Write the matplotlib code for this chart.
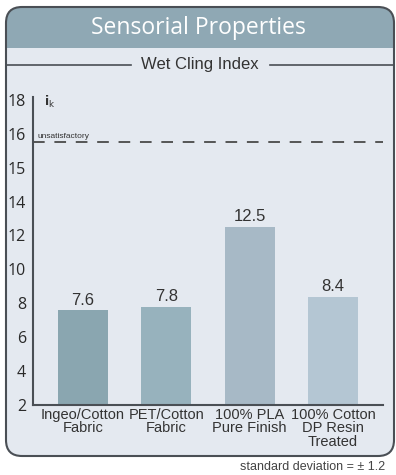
import matplotlib.pyplot as plt
from matplotlib.patches import FancyBboxPatch, Rectangle

# data
categories = ['Ingeo/Cotton\nFabric', 'PET/Cotton\nFabric', '100% PLA\nPure Finish', '100% Cotton\nDP Resin\nTreated']
values = [7.6, 7.8, 12.5, 8.4]
bar_colors = ['#8aa6b0', '#97b2bd', '#a7b9c6', '#b4c6d3']
# tick labels as printed on the original (evenly spaced, 2 units apart)
tick_pos = [2, 4, 6, 8, 10, 12, 14, 16, 18, 20]
tick_labels = ['2', '4', '6', '8', '10', '12', '14', '15', '16', '18']
threshold = 17.5

panel_bg = '#e4e9f0'
header_bg = '#8fa8b4'
edge = '#4a4f55'
text_c = '#333333'

fig = plt.figure(figsize=(3.96, 4.75), dpi=100)

# frame drawn in pixel coordinates
bg = fig.add_axes([0, 0, 1, 1])
bg.set_xlim(0, 396)
bg.set_ylim(475, 0)
bg.axis('off')

box = FancyBboxPatch((6, 7), 388, 449, boxstyle='round,pad=0,rounding_size=16',
                     facecolor=panel_bg, edgecolor='none')
bg.add_patch(box)
head = FancyBboxPatch((6, 7), 388, 449, boxstyle='round,pad=0,rounding_size=16',
                      facecolor=header_bg, edgecolor='none')
bg.add_patch(head)
clip = Rectangle((0, 0), 396, 48, transform=bg.transData)
head.set_clip_path(clip)
outline = FancyBboxPatch((6, 7), 388, 449, boxstyle='round,pad=0,rounding_size=16',
                         facecolor='none', edgecolor=edge, linewidth=1.5)
bg.add_patch(outline)

bg.text(198, 28, 'Sensorial Properties', color='white', fontsize=16.5,
        family='Open Sans', ha='center', va='center')
bg.text(200, 64, 'Wet Cling Index', color=text_c, fontsize=12,
        family='Liberation Sans', ha='center', va='center')
bg.plot([6, 131], [65, 65], color=edge, lw=1.2)
bg.plot([270, 393], [65, 65], color=edge, lw=1.2)
bg.text(385, 467, 'standard deviation = ± 1.2', color='#444444', fontsize=9,
        family='Liberation Sans', ha='right', va='center')

# chart
ax = fig.add_axes([33 / 396, 70 / 475, 350 / 396, 308.5 / 475])
ax.patch.set_alpha(0)
x = range(len(values))
bars = ax.bar(x, [v - 2 for v in values], bottom=2, width=0.6, color=bar_colors)
for xi, v in zip(x, values):
    ax.text(xi, v + 0.15, f'{v}', ha='center', va='bottom', fontsize=12,
            family='Liberation Sans', color=text_c)

ax.axhline(threshold, color='#555555', lw=1.4, dashes=(6, 5))
ax.text(-0.55, threshold + 0.12, 'unsatisfactory', fontsize=6, color=text_c,
        family='Liberation Sans', va='bottom')
ax.text(-0.47, 19.9, r'$\mathbf{i}_{\mathrm{k}}$', fontsize=9, color=text_c, va='center')

ax.set_xlim(-0.6, 3.6)
ax.set_ylim(2, 20.2)
ax.set_yticks(tick_pos)
ax.set_yticklabels(tick_labels, family='Open Sans', fontsize=11.5, color='#2a2a2a')
ax.set_xticks(list(x))
ax.set_xticklabels(categories, family='Liberation Sans', fontsize=10.5, color=text_c,
                   linespacing=0.95)
ax.tick_params(axis='both', length=0)
ax.tick_params(axis='y', pad=5)
ax.tick_params(axis='x', pad=2)
for s in ['top', 'right']:
    ax.spines[s].set_visible(False)
for s in ['left', 'bottom']:
    ax.spines[s].set_color(edge)
    ax.spines[s].set_linewidth(1.5)

fig.savefig('out.png', dpi=100)
